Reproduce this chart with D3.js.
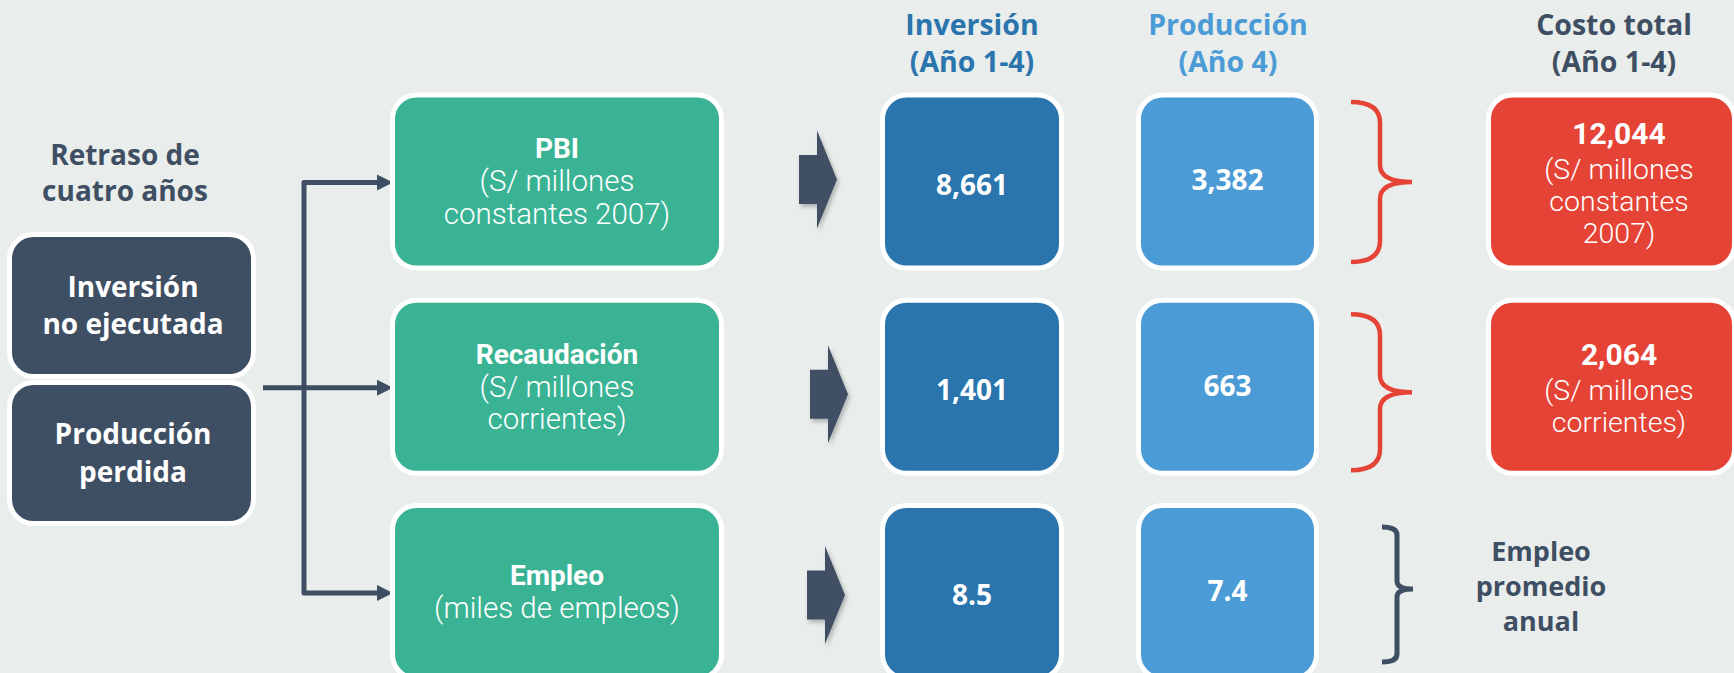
<!DOCTYPE html>
<html>
<head>
<meta charset="utf-8">
<script src="https://cdn.jsdelivr.net/npm/d3@7"></script>
<style>
  html, body { margin: 0; padding: 0; background: #e9edeb; }
  svg { display: block; }
  text { font-family: "Open Sans", "Noto Sans", sans-serif; }
  text.boxtxt { font-family: Roboto, "Open Sans", sans-serif; }
</style>
</head>
<body>
<svg id="chart" width="1734" height="673"></svg>
<script>
// ---------------- data ----------------
const rows = ["PBI", "Recaudación", "Empleo"];
const rowUnits = [["(S/ millones", "constantes 2007)"], ["(S/ millones", "corrientes)"], ["(miles de empleos)"]];
const inversion = [8661, 1401, 8.5];
const produccion = [3382, 663, 7.4];
const costoTotal = [12044, 2064, null];
const costoUnits = [["(S/ millones", "constantes", "2007)"], ["(S/ millones", "corrientes)"], []];
const columnHeaders = [["Inversión", "(Año 1-4)"], ["Producción", "(Año 4)"], ["Costo total", "(Año 1-4)"]];
const sourceLabels = [["Inversión", "no ejecutada"], ["Producción", "perdida"]];
const delayLabel = ["Retraso de", "cuatro años"];
const empleoNote = ["Empleo", "promedio", "anual"];

// ---------------- style ----------------
const C = {
  bg: "#e9edeb", dark: "#3f4f63", green: "#3ab394", blue: "#2a75ae",
  light: "#4b9bd6", red: "#e44335", dash: "#a3a6a6"
};
const fmt = d3.format(",");

const svg = d3.select("#chart");
const W = 1734, H = 673;
svg.append("rect").attr("width", W).attr("height", H).attr("fill", C.bg);

const defs = svg.append("defs");
defs.append("filter").attr("id", "dshadow").attr("x", "-5%").attr("y", "-50%").attr("width", "110%").attr("height", "300%")
  .append("feDropShadow").attr("dx", 0).attr("dy", 4).attr("stdDeviation", 1.6)
  .attr("flood-color", "#000").attr("flood-opacity", 0.22);
defs.append("filter").attr("id", "ashadow").attr("x", "-30%").attr("y", "-30%").attr("width", "160%").attr("height", "160%")
  .append("feDropShadow").attr("dx", 2).attr("dy", 3).attr("stdDeviation", 2)
  .attr("flood-color", "#000").attr("flood-opacity", 0.25);

// multi-line label as one text element with tspans
function multi(g, x, items, fill, cls) {
  const t = g.append("text").attr("text-anchor", "middle").attr("fill", fill);
  if (cls) t.attr("class", cls);
  items.forEach(it => {
    t.append("tspan").attr("x", x).attr("y", it.y).attr("dy", "0.35em")
      .attr("font-weight", it.w).attr("font-size", it.s).text(it.t);
  });
  return t;
}

// ---------------- scales ----------------
const y = d3.scalePoint().domain(rows).range([181.5, 592]);
const colX = d3.scaleOrdinal()
  .domain(["metric", "inv", "prod", "total"])
  .range([395, 885, 1141, 1491]);
const colW = d3.scaleOrdinal()
  .domain(["metric", "inv", "prod", "total"])
  .range([324, 174, 173, 241]);
const boxH = 168, RX = 22;

function box(g, x, yTop, w, h, fill) {
  g.append("rect")
    .attr("x", x - 2.5).attr("y", yTop - 2.5)
    .attr("width", w + 5).attr("height", h + 5)
    .attr("rx", RX + 2).attr("ry", RX + 2)
    .attr("fill", fill).attr("stroke", "#fff").attr("stroke-width", 5);
}

// ---------------- dashed separators ----------------
const sepG = svg.append("g");
d3.pairs(rows).forEach(([a, b]) => {
  const yy = (y(a) + y(b)) / 2 + 1;
  sepG.append("line")
    .attr("x1", 310).attr("x2", 1648).attr("y1", yy).attr("y2", yy)
    .attr("stroke", C.dash).attr("stroke-width", 3)
    .attr("stroke-dasharray", "10 8.7")
    .attr("filter", "url(#dshadow)");
});

// ---------------- left side ----------------
const left = svg.append("g");
multi(left, 125, delayLabel.map((d, i) => ({ t: d, y: 155 + i * 36, w: 700, s: 28 })), C.dark);

const srcY = d3.scalePoint().domain(d3.range(sourceLabels.length)).range([305.5, 453]);
sourceLabels.forEach((lines, i) => {
  const cy = srcY(i);
  const h = i === 0 ? 137 : 136;
  box(left, 12, cy - h / 2, 239, h, C.dark);
  multi(left, 133, lines.map((d, j) => ({ t: d, y: cy + (j - (lines.length - 1) / 2) * 37.5, w: 700, s: 28 })), "#fff");
});

// connector lines
const conn = svg.append("g");
const y0 = y(rows[0]) + 1, y1 = y(rows[1]) + 1, y2 = y(rows[2]) + 1;
const vx = 304, tipX = 393;
conn.append("path")
  .attr("d", `M${tipX - 15},${y0} H${vx} V${y2} H${tipX - 15}`)
  .attr("fill", "none").attr("stroke", C.dark).attr("stroke-width", 5).attr("stroke-linejoin", "round");
conn.append("path")
  .attr("d", `M263,${y1} H${tipX - 15}`)
  .attr("fill", "none").attr("stroke", C.dark).attr("stroke-width", 5);
[y0, y1, y2].forEach(yy => {
  conn.append("path")
    .attr("d", `M${tipX - 16},${yy - 8} L${tipX},${yy} L${tipX - 16},${yy + 8} Z`)
    .attr("fill", C.dark);
});

// ---------------- headers ----------------
const headG = svg.append("g");
const headX = [972, 1228, 1614];
const headC = [C.blue, C.light, C.dark];
columnHeaders.forEach((lines, i) => {
  multi(headG, headX[i], lines.map((d, j) => ({ t: d, y: 25 + j * 37.5, w: 700, s: 28.5 })), headC[i]);
});

// ---------------- rows ----------------
const arrowDX = [799, 810, 807];
const arrowDY = [-2, 7.5, 3];
const rowG = svg.append("g");
rows.forEach((r, i) => {
  const cy = y(r);
  const top = cy - boxH / 2;
  const g = rowG.append("g");

  // metric box
  box(g, colX("metric"), top, colW("metric"), boxH, C.green);
  const lines = [r].concat(rowUnits[i]);
  const mx = colX("metric") + colW("metric") / 2;
  multi(g, mx, lines.map((t, j) => ({
    t, y: cy - 0.5 + (j - (lines.length - 1) / 2) * 32.5,
    w: j === 0 ? 700 : 300, s: j === 0 ? 28 : 29.5
  })), "#fff", "boxtxt");

  // block arrow
  const ax = arrowDX[i], ay = cy + arrowDY[i];
  g.append("path")
    .attr("d", `M${ax},${ay - 24.5} H${ax + 18} V${ay - 49} L${ax + 38},${ay} L${ax + 18},${ay + 49} V${ay + 24.5} H${ax} Z`)
    .attr("fill", C.dark).attr("filter", "url(#ashadow)");

  // inversion
  box(g, colX("inv"), top, colW("inv"), boxH, C.blue);
  g.append("text")
    .attr("x", colX("inv") + colW("inv") / 2).attr("y", cy + 3.5).attr("dy", "0.35em")
    .attr("text-anchor", "middle").attr("fill", "#fff").attr("font-weight", 700).attr("font-size", 28)
    .text(fmt(inversion[i]));

  // produccion
  box(g, colX("prod"), top, colW("prod"), boxH, C.light);
  g.append("text")
    .attr("x", colX("prod") + colW("prod") / 2).attr("y", cy - 1).attr("dy", "0.35em")
    .attr("text-anchor", "middle").attr("fill", "#fff").attr("font-weight", 700).attr("font-size", 28)
    .text(fmt(produccion[i]));

  // brace + total
  if (costoTotal[i] !== null) {
    const bc = cy + (i === 0 ? 0.5 : 5.5), hh = i === 0 ? 80 : 78, x0 = 1351, x1 = 1380, tx = 1412, rr = 21;
    g.append("path")
      .attr("d", `M${x0},${bc - hh} Q${x1},${bc - hh} ${x1},${bc - hh + rr} V${bc - rr + 4} Q${x1},${bc} ${tx},${bc} Q${x1},${bc} ${x1},${bc + rr - 4} V${bc + hh - rr} Q${x1},${bc + hh} ${x0},${bc + hh}`)
      .attr("fill", "none").attr("stroke", C.red).attr("stroke-width", 4.5);

    box(g, colX("total"), top, colW("total"), boxH, C.red);
    const tl = [fmt(costoTotal[i])].concat(costoUnits[i]);
    const tX = 1619;
    const n = tl.length;
    const blockH = 36 + (n - 2) * 32;
    const startY = cy + 1.5 - blockH / 2;
    multi(g, tX, tl.map((t, j) => ({
      t, y: j === 0 ? startY : startY + 36 + (j - 1) * 32,
      w: j === 0 ? 700 : 300, s: j === 0 ? 30 : 28.5
    })), "#fff", "boxtxt");
  } else {
    const bc = cy - 3, up = 62, dn = 73, x0 = 1382, x1 = 1397, tx = 1413, rr = 8;
    g.append("path")
      .attr("d", `M${x0},${bc - up} Q${x1},${bc - up} ${x1},${bc - up + rr} V${bc - rr} Q${x1},${bc} ${tx},${bc} Q${x1},${bc} ${x1},${bc + rr} V${bc + dn - rr} Q${x1},${bc + dn} ${x0},${bc + dn}`)
      .attr("fill", "none").attr("stroke", C.dark).attr("stroke-width", 5);
    multi(g, 1541, empleoNote.map((d, j) => ({ t: d, y: 552 + j * 35, w: 700, s: 27 })), C.dark);
  }
});
</script>
</body>
</html>
